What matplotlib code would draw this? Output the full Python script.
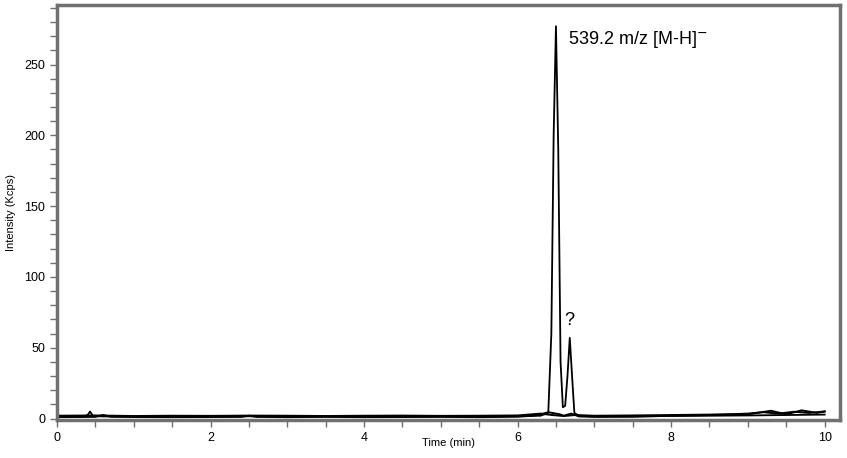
import numpy as np
import matplotlib.pyplot as plt
from matplotlib.ticker import MultipleLocator

plt.rcParams['font.family'] = ['Liberation Sans', 'DejaVu Sans']

# main trace (539.2 m/z)
t1 = [0.0, 0.35, 0.40, 0.43, 0.47, 0.6, 1.0, 1.5, 2.0, 2.5, 3.0, 3.5, 4.0, 4.5, 5.0, 5.5, 6.0, 6.3,
      6.40, 6.44, 6.47, 6.50, 6.53, 6.56, 6.59, 6.62, 6.65, 6.68, 6.71, 6.74, 6.80, 7.0, 7.5, 8.0,
      8.5, 9.0, 9.5, 10.0]
y1 = [1.5, 1.5, 2.5, 5.0, 1.8, 1.5, 1.5, 1.5, 1.5, 1.6, 1.5, 1.5, 1.6, 1.5, 1.5, 1.6, 1.7, 2.0,
      4.0, 60.0, 200.0, 277.0, 190.0, 40.0, 8.0, 9.0, 30.0, 57.0, 30.0, 4.0, 2.0, 1.5, 1.6, 1.8,
      2.0, 2.2, 2.5, 2.8]

# second trace
t2 = [0.0, 0.5, 0.6, 0.7, 1.0, 1.5, 2.0, 2.4, 2.5, 2.6, 3.0, 3.5, 4.0, 4.5, 5.0, 5.5, 6.0, 6.2,
      6.3, 6.4, 6.55, 6.6, 6.7, 6.8, 7.0, 7.5, 8.0, 8.5, 9.0, 9.2, 9.4, 9.6, 9.8, 10.0]
y2 = [1.0, 1.2, 2.5, 1.3, 1.1, 1.0, 1.1, 1.2, 2.0, 1.2, 1.0, 1.2, 1.0, 1.1, 1.2, 1.0, 1.3, 2.0,
      3.0, 4.5, 3.0, 2.0, 3.5, 1.5, 1.2, 1.3, 2.0, 2.5, 3.5, 4.5, 3.5, 4.8, 4.0, 5.0]

# third trace
t3 = [0.0, 0.5, 1.0, 1.5, 2.0, 2.5, 3.0, 3.5, 4.0, 4.5, 5.0, 5.5, 6.0, 6.3, 6.45, 6.6, 6.75, 7.0,
      7.5, 8.0, 8.5, 9.0, 9.3, 9.5, 9.7, 9.9, 10.0]
y3 = [2.0, 2.2, 1.8, 2.0, 1.9, 2.1, 2.0, 1.8, 2.0, 2.1, 1.9, 2.0, 2.2, 3.5, 2.5, 1.8, 2.5, 2.0,
      2.2, 2.5, 2.8, 3.0, 5.5, 3.0, 5.8, 4.0, 5.0]

fig = plt.figure(figsize=(8.47, 4.58), dpi=100)
ax = fig.add_axes([0.0673, 0.083, 0.9244, 0.906])

ax.plot(t3, y3, color='black', lw=1.4)
ax.plot(t2, y2, color='black', lw=1.4)
ax.plot(t1, y1, color='black', lw=1.3)

ax.text(6.66, 268, '539.2 m/z [M-H]$^{-}$', fontsize=13, va='center', ha='left')
ax.text(6.68, 63, '?', fontsize=13, ha='center', va='bottom')

ax.set_xlim(0, 10.2)
ax.set_ylim(-1, 292)
ax.xaxis.set_major_locator(MultipleLocator(2))
ax.xaxis.set_minor_locator(MultipleLocator(0.5))
ax.yaxis.set_major_locator(MultipleLocator(50))
ax.yaxis.set_minor_locator(MultipleLocator(10))
ax.tick_params(which='both', direction='out', color='#707070', labelsize=9)
ax.tick_params(which='major', length=5, width=1)
ax.tick_params(which='minor', length=5, width=1)
for s in ax.spines.values():
    s.set_color('#707070')
    s.set_linewidth(2.5)

ax.set_xlabel('Time (min)', fontsize=8, labelpad=-4)
ax.set_ylabel('Intensity (Kcps)', fontsize=8, labelpad=6)

fig.savefig('out.png', dpi=100)
